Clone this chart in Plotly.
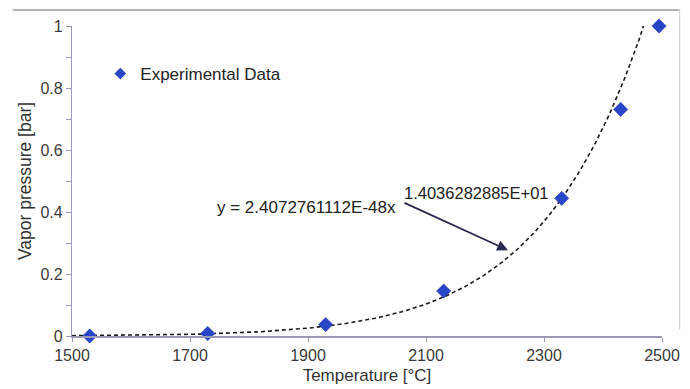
import numpy as np
import plotly.graph_objects as go

# Data
temperature_c = [1530, 1730, 1930, 2130, 2330, 2430, 2495]
vapor_pressure_bar = [0.0, 0.008, 0.037, 0.145, 0.444, 0.731, 1.0]
fit_coef_a = 2.4072761112e-48
fit_exp_b = 1.4036282885e+01
x_ticks = [1500, 1700, 1900, 2100, 2300, 2500]
y_ticks = [0, 0.2, 0.4, 0.6, 0.8, 1]
y_tick_labels = ["0", "0.2", "0.4", "0.6", "0.8", "1"]

fit_x = np.linspace(1500, 2500, 400)
fit_y = fit_coef_a * fit_x ** fit_exp_b

FONT = "Liberation Sans, Arial, sans-serif"
AXIS_COLOR = "#9a9ab8"
MARKER_COLOR = "#2a46c8"

fig = go.Figure()
fig.add_trace(go.Scatter(
    x=fit_x, y=fit_y, mode="lines",
    line=dict(color="#1a1a1a", width=1.6, dash="4px,3px"),
    showlegend=False, hoverinfo="skip",
))
fig.add_trace(go.Scatter(
    x=temperature_c, y=vapor_pressure_bar, mode="markers",
    marker=dict(symbol="diamond", size=11, color=MARKER_COLOR,
                line=dict(color="#1f34a8", width=0.5)),
    name="Experimental Data", cliponaxis=False, showlegend=False,
))
# legend entry (smaller symbol, as in the reference legend)
fig.add_trace(go.Scatter(
    x=[None], y=[None], mode="markers",
    marker=dict(symbol="diamond", size=9, color=MARKER_COLOR),
    name="Experimental Data", showlegend=True,
))

fig.update_layout(
    width=690, height=389,
    margin=dict(l=72, r=28, t=26, b=53),
    paper_bgcolor="white", plot_bgcolor="white",
    font=dict(family=FONT, size=16, color="#333333"),
    showlegend=True,
    legend=dict(x=0.048, y=0.845, xanchor="left", yanchor="middle",
                bgcolor="rgba(0,0,0,0)", font=dict(size=17, color="#222"),
                itemwidth=30),
    xaxis=dict(
        range=[1500, 2500], tickvals=x_ticks, ticks="outside", ticklen=4,
        tickcolor=AXIS_COLOR, showline=True, linecolor=AXIS_COLOR, linewidth=1.5,
        showgrid=False, zeroline=False, automargin=False,
        title=dict(text="Temperature [°C]", standoff=6, font=dict(size=17)),
        tickfont=dict(size=16, color="#3a3a3a"),
    ),
    yaxis=dict(
        range=[0, 1], tickvals=y_ticks, ticktext=y_tick_labels, ticks="outside",
        ticklen=5, tickcolor=AXIS_COLOR, showline=True, linecolor=AXIS_COLOR,
        linewidth=1.2, showgrid=False, zeroline=False,
        minor=dict(dtick=0.1, ticks="outside", ticklen=5, tickcolor=AXIS_COLOR),
        title=dict(text="Vapor pressure [bar]", standoff=4, font=dict(size=17.5)),
        tickfont=dict(size=16, color="#3a3a3a"),
    ),
    shapes=[
        dict(type="line", xref="paper", yref="paper", x0=-0.10, x1=1.03,
             y0=1.052, y1=1.052, line=dict(color="#9a9aa8", width=1.5)),
        dict(type="line", xref="paper", yref="paper", x0=1.03, x1=1.03,
             y0=1.052, y1=0.02, line=dict(color="#c8c8d0", width=1)),
    ],
    annotations=[
        dict(x=2239, y=0.277, xref="x", yref="y", ax=-105, ay=-48,
             showarrow=True, arrowhead=2, arrowsize=1.2, arrowwidth=1.8,
             arrowcolor="#2a2a50", text=""),
        dict(x=1742, y=0.416, xref="x", yref="y",
             text="y = 2.4072761112E-48x", showarrow=False,
             xanchor="left", font=dict(size=17, color="#222")),
        dict(x=2059, y=0.461, xref="x", yref="y",
             text="1.4036282885E+01", showarrow=False,
             xanchor="left", font=dict(size=16.5, color="#222")),
    ],
)

fig.write_html("out.html")
